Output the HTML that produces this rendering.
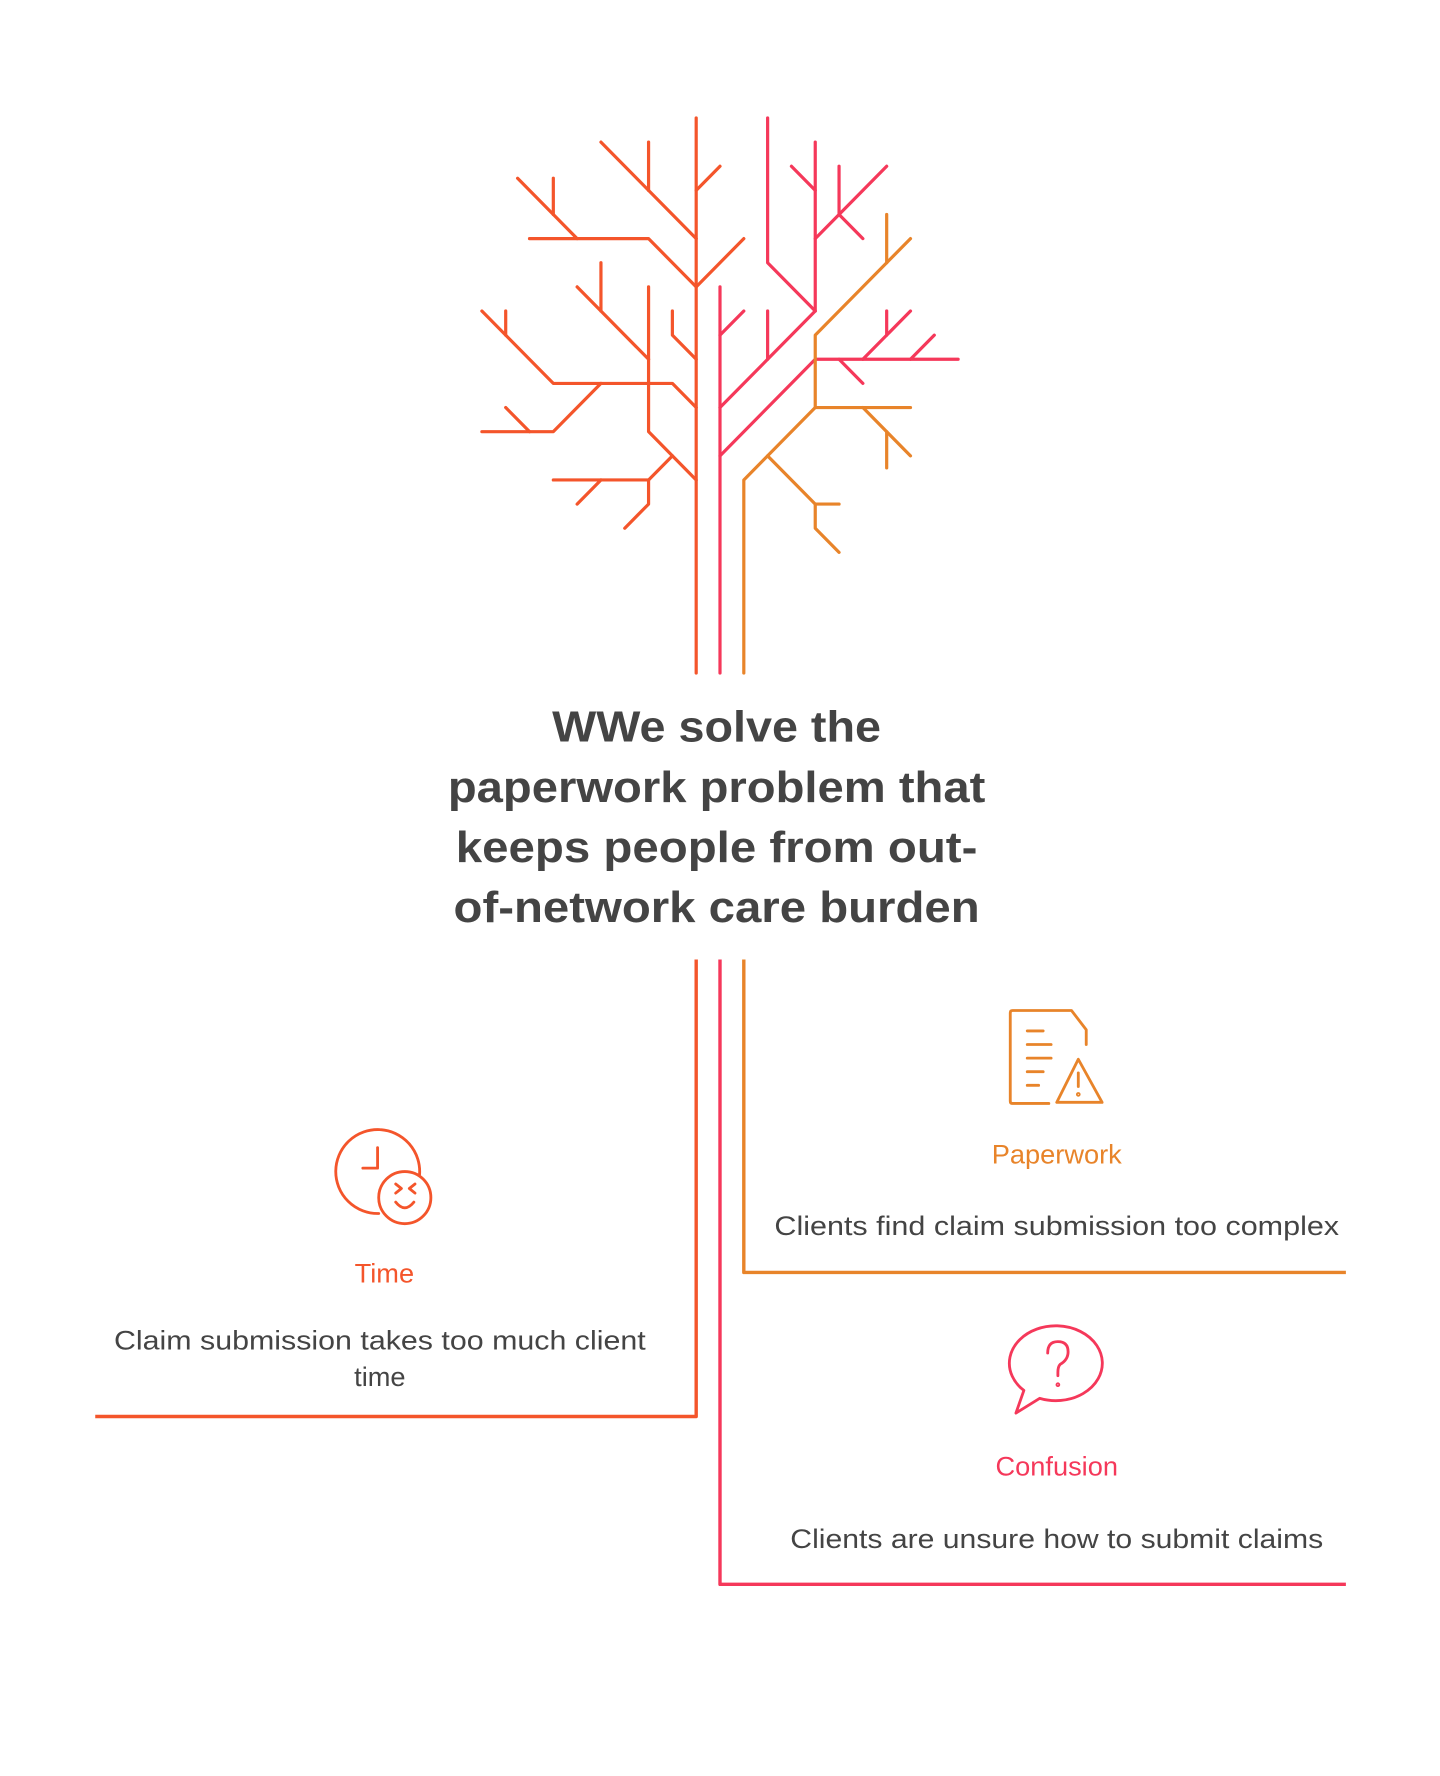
<!DOCTYPE html>
<html><head><meta charset="utf-8"><style>
html,body{margin:0;padding:0;background:#fff}
svg{display:block}
text{font-family:"Liberation Sans",Arial,sans-serif}
</style></head><body>
<svg width="1440" height="1776" viewBox="0 0 1270 1566" preserveAspectRatio="none" xmlns="http://www.w3.org/2000/svg">
<rect width="1280" height="1579" fill="#fff"/>
<g fill="none" stroke-linecap="round" stroke-linejoin="round">
<g transform="translate(425,104) scale(21,21.28)">
<g stroke="#f4552b">
<polyline vector-effect="non-scaling-stroke" stroke-width="3.2" points="9,0 9,23"/>
<polyline vector-effect="non-scaling-stroke" stroke-width="3.2" points="9,3 10,2"/>
<polyline vector-effect="non-scaling-stroke" stroke-width="3.2" points="5,1 9,5"/>
<polyline vector-effect="non-scaling-stroke" stroke-width="3.2" points="7,1 7,3"/>
<polyline vector-effect="non-scaling-stroke" stroke-width="3.2" points="9,7 11,5"/>
<polyline vector-effect="non-scaling-stroke" stroke-width="3.2" points="9,7 7,5 2,5"/>
<polyline vector-effect="non-scaling-stroke" stroke-width="3.2" points="1.5,2.5 4,5"/>
<polyline vector-effect="non-scaling-stroke" stroke-width="3.2" points="3,2.5 3,4"/>
<polyline vector-effect="non-scaling-stroke" stroke-width="3.2" points="4,7 7,10"/>
<polyline vector-effect="non-scaling-stroke" stroke-width="3.2" points="5,6 5,8"/>
<polyline vector-effect="non-scaling-stroke" stroke-width="3.2" points="7,7 7,13 9,15"/>
<polyline vector-effect="non-scaling-stroke" stroke-width="3.2" points="8,8 8,9 9,10"/>
<polyline vector-effect="non-scaling-stroke" stroke-width="3.2" points="0,8 3,11 8,11 9,12"/>
<polyline vector-effect="non-scaling-stroke" stroke-width="3.2" points="1,8 1,9"/>
<polyline vector-effect="non-scaling-stroke" stroke-width="3.2" points="5,11 3,13 0,13"/>
<polyline vector-effect="non-scaling-stroke" stroke-width="3.2" points="1,12 2,13"/>
<polyline vector-effect="non-scaling-stroke" stroke-width="3.2" points="8,14 7,15 3,15"/>
<polyline vector-effect="non-scaling-stroke" stroke-width="3.2" points="5,15 4,16"/>
<polyline vector-effect="non-scaling-stroke" stroke-width="3.2" points="7,15 7,16 6,17"/>
</g>
<g stroke="#f5385a">
<polyline vector-effect="non-scaling-stroke" stroke-width="3.2" points="10,7 10,23"/>
<polyline vector-effect="non-scaling-stroke" stroke-width="3.2" points="10,9 11,8"/>
<polyline vector-effect="non-scaling-stroke" stroke-width="3.2" points="10,12 12,10 14,8"/>
<polyline vector-effect="non-scaling-stroke" stroke-width="3.2" points="12,8 12,10"/>
<polyline vector-effect="non-scaling-stroke" stroke-width="3.2" points="14,8 14,1"/>
<polyline vector-effect="non-scaling-stroke" stroke-width="3.2" points="13,2 14,3"/>
<polyline vector-effect="non-scaling-stroke" stroke-width="3.2" points="12,0 12,6 14,8"/>
<polyline vector-effect="non-scaling-stroke" stroke-width="3.2" points="14,5 15,4 17,2"/>
<polyline vector-effect="non-scaling-stroke" stroke-width="3.2" points="15,2 15,4 16,5"/>
<polyline vector-effect="non-scaling-stroke" stroke-width="3.2" points="10,14 14,10 20,10"/>
<polyline vector-effect="non-scaling-stroke" stroke-width="3.2" points="15,10 16,11"/>
<polyline vector-effect="non-scaling-stroke" stroke-width="3.2" points="16,10 18,8"/>
<polyline vector-effect="non-scaling-stroke" stroke-width="3.2" points="17,8 17,9"/>
<polyline vector-effect="non-scaling-stroke" stroke-width="3.2" points="18,10 19,9"/>
</g>
<g stroke="#e8842a">
<polyline vector-effect="non-scaling-stroke" stroke-width="3.2" points="11,23 11,15 14,12 14,9 18,5"/>
<polyline vector-effect="non-scaling-stroke" stroke-width="3.2" points="17,4 17,6"/>
<polyline vector-effect="non-scaling-stroke" stroke-width="3.2" points="14,12 18,12"/>
<polyline vector-effect="non-scaling-stroke" stroke-width="3.2" points="16,12 18,14"/>
<polyline vector-effect="non-scaling-stroke" stroke-width="3.2" points="17,13 17,14.5"/>
<polyline vector-effect="non-scaling-stroke" stroke-width="3.2" points="12,14 14,16 15,16"/>
<polyline vector-effect="non-scaling-stroke" stroke-width="3.2" points="14,16 14,17 15,18"/>
</g>
</g>
<polyline stroke="#f4552b" stroke-width="3" stroke-linecap="butt" points="614,846 614,1249 84,1249"/>
<polyline stroke="#f5385a" stroke-width="3" stroke-linecap="butt" points="635,846 635,1397 1187,1397"/>
<polyline stroke="#e8842a" stroke-width="3" stroke-linecap="butt" points="656,846 656,1122 1187,1122"/>
<g stroke="#f4552b" stroke-width="2.5">
<path d="M334,1070 A37,37 0 1 1 370,1036"/>
<circle cx="357" cy="1056" r="23"/>
<polyline points="333,1012 333,1030 320,1030"/>
<polyline points="349,1044 354,1048 349,1052"/>
<polyline points="366,1044 361,1048 366,1052"/>
<path d="M349,1060 Q357,1070 365,1060"/>
</g>
<g stroke="#e8842a" stroke-width="2.5">
<path d="M925,973 H893 Q891,973 891,971 V893 Q891,891 893,891 H945 L958,908 V921"/>
<line x1="906" y1="909" x2="920" y2="909"/>
<line x1="906" y1="921" x2="927" y2="921"/>
<line x1="906" y1="933" x2="927" y2="933"/>
<line x1="906" y1="945" x2="920" y2="945"/>
<line x1="906" y1="957" x2="916" y2="957"/>
<path d="M951,934 L932,972 H972 Z"/>
<line x1="951" y1="946" x2="951" y2="958"/>
<circle cx="951" cy="965" r="0.8"/>
</g>
<g stroke="#f5385a" stroke-width="2.5">
<path d="M903,1226 A41,33 0 1 1 917,1233 L896,1246 Z"/>
<path d="M924,1193 Q924,1183 933,1183 Q942,1183 942,1192 Q942,1199 935,1203 Q933,1205 933,1210 V1213"/>
<circle cx="933" cy="1221" r="0.8"/>
</g>
</g>
<g fill="#444" font-weight="bold" font-size="38" text-anchor="middle">
<text x="632" y="654" textLength="290" lengthAdjust="spacingAndGlyphs">WWe solve the</text>
<text x="632" y="707" textLength="474" lengthAdjust="spacingAndGlyphs">paperwork problem that</text>
<text x="632" y="760" textLength="460" lengthAdjust="spacingAndGlyphs">keeps people from out-</text>
<text x="632" y="813" textLength="464" lengthAdjust="spacingAndGlyphs">of-network care burden</text>
</g>
<g font-size="24" text-anchor="middle">
<text x="339" y="1131" fill="#f4552b">Time</text>
<text x="335" y="1190" fill="#444" textLength="469" lengthAdjust="spacingAndGlyphs">Claim submission takes too much client</text>
<text x="335" y="1222" fill="#444">time</text>
<text x="932" y="1026" fill="#e8842a">Paperwork</text>
<text x="932" y="1089" fill="#444" textLength="498" lengthAdjust="spacingAndGlyphs">Clients find claim submission too complex</text>
<text x="932" y="1301" fill="#f5385a">Confusion</text>
<text x="932" y="1365" fill="#444" textLength="470" lengthAdjust="spacingAndGlyphs">Clients are unsure how to submit claims</text>
</g>
</svg>
</body></html>
